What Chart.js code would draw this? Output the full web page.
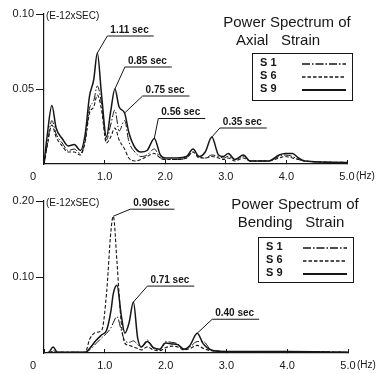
<!DOCTYPE html>
<html lang="en">
<head>
<meta charset="UTF-8">
<title>Power Spectrum of Axial and Bending Strain</title>
<script src="https://cdn.jsdelivr.net/npm/chart.js"></script>
<style>
  body { margin: 0; background: #fff; }
  .wrap { position: relative; width: 388px; height: 374px; }
  canvas { position: absolute; left: 0; }
  #axialChart { top: 0; }
  #bendingChart { top: 187px; }
</style>
</head>
<body>
<div class="wrap">
  <canvas id="axialChart" width="388" height="187"></canvas>
  <canvas id="bendingChart" width="388" height="187"></canvas>
</div>
<script>
// ---- axial strain (top) ----
const axialFreq = [0, 0.05, 0.13, 0.2, 0.3, 0.4, 0.5, 0.6, 0.68, 0.75,
  0.82, 0.88, 0.95, 1.03, 1.1, 1.17, 1.24, 1.33, 1.4, 1.5,
  1.6, 1.7, 1.82, 1.92, 2.0, 2.2, 2.35, 2.46, 2.56, 2.66,
  2.77, 2.88, 2.96, 3.04, 3.15, 3.29, 3.4, 3.7, 3.88, 3.98,
  4.1, 4.2, 4.3, 5.0];
const axialS1 = [0, 0.012, 0.029, 0.020, 0.014, 0.009, 0.010, 0.007, 0.016, 0.037,
  0.042, 0.052, 0.040, 0.016, 0.026, 0.036, 0.022, 0.029, 0.015, 0.008,
  0.005, 0.006, 0.010, 0.004, 0.003, 0.003, 0.004, 0.008, 0.005, 0.004,
  0.006, 0.005, 0.004, 0.005, 0.003, 0.005, 0.002, 0.002, 0.005, 0.006,
  0.005, 0.003, 0.002, 0.001];
const axialS6 = [0, 0.011, 0.026, 0.018, 0.012, 0.008, 0.008, 0.006, 0.015, 0.034,
  0.038, 0.046, 0.036, 0.014, 0.018, 0.024, 0.016, 0.010, 0.004, 0.002,
  0.003, 0.005, 0.007, 0.004, 0.003, 0.003, 0.004, 0.008, 0.004, 0.004,
  0.005, 0.004, 0.003, 0.004, 0.002, 0.004, 0.002, 0.002, 0.004, 0.005,
  0.004, 0.003, 0.002, 0.001];
const axialS9 = [0, 0.018, 0.039, 0.024, 0.017, 0.012, 0.013, 0.009, 0.020, 0.045,
  0.056, 0.074, 0.046, 0.018, 0.035, 0.050, 0.038, 0.034, 0.021, 0.011,
  0.008, 0.009, 0.017, 0.006, 0.004, 0.004, 0.005, 0.010, 0.005, 0.008,
  0.018, 0.006, 0.005, 0.007, 0.003, 0.006, 0.002, 0.002, 0.006, 0.007,
  0.007, 0.004, 0.002, 0.001];
const axialPeakText = ['1.11 sec', '0.85 sec', '0.75 sec', '0.56 sec', '0.35 sec'];
const axialPeakFreq = [0.88, 1.17, 1.33, 1.82, 2.77];
const axialPeakVal = [0.074, 0.050, 0.034, 0.017, 0.018];

// ---- bending strain (bottom) ----
const bendFreq = [0, 0.08, 0.15, 0.22, 0.4, 0.68, 0.75, 0.85, 0.95, 1.03,
  1.1, 1.14, 1.2, 1.27, 1.33, 1.4, 1.47, 1.54, 1.6, 1.7,
  1.8, 1.9, 2.0, 2.1, 2.2, 2.3, 2.4, 2.52, 2.62, 2.75,
  3.0, 3.5, 4.0, 5.0];
const bendS1 = [0, 0, 0.003, 0.001, 0.001, 0.001, 0.004, 0.012, 0.020, 0.026,
  0.033, 0.040, 0.048, 0.030, 0.016, 0.014, 0.016, 0.011, 0.008, 0.017,
  0.006, 0.004, 0.015, 0.014, 0.012, 0.005, 0.008, 0.015, 0.015, 0.004,
  0.002, 0.002, 0.002, 0.001];
const bendS6 = [0, 0, 0.002, 0.001, 0.001, 0.001, 0.018, 0.027, 0.030, 0.080,
  0.160, 0.180, 0.120, 0.040, 0.013, 0.010, 0.008, 0.006, 0.004, 0.008,
  0.004, 0.003, 0.007, 0.009, 0.008, 0.004, 0.006, 0.010, 0.006, 0.003,
  0.002, 0.001, 0.002, 0.001];
const bendS9 = [0, 0.001, 0.008, 0.001, 0.001, 0.001, 0.006, 0.016, 0.024, 0.030,
  0.055, 0.078, 0.089, 0.050, 0.026, 0.040, 0.067, 0.020, 0.008, 0.015,
  0.007, 0.005, 0.013, 0.012, 0.011, 0.005, 0.010, 0.026, 0.012, 0.004,
  0.002, 0.002, 0.002, 0.001];
const bendPeakText = ['0.90sec', '0.71 sec', '0.40 sec'];
const bendPeakFreq = [1.14, 1.47, 2.52];
const bendPeakVal = [0.180, 0.067, 0.026];

const seriesNames = ['S 1', 'S 6', 'S 9'];
const xTickLabels = ['0', '1.0', '2.0', '3.0', '4.0', '5.0'];

const ink = '#161616';
const fontFam = '"Liberation Sans", Arial, sans-serif';
const lineStyles = [
  { dash: [8, 2, 1.5, 2], width: 1 },   // S1 dash-dot
  { dash: [3.5, 2], width: 1.1 },        // S6 dashed
  { dash: [], width: 1.5 }               // S9 solid
];

function pts(freq, vals) {
  return freq.map((f, i) => ({ x: f, y: vals[i] }));
}

// titles, legend box, unit and peak labels
const decor = {
  id: 'decor',
  afterDraw(chart, args, o) {
    const ctx = chart.ctx, xs = chart.scales.x, ys = chart.scales.y, a = chart.chartArea;
    ctx.save();
    ctx.fillStyle = ink;
    ctx.strokeStyle = ink;
    ctx.textBaseline = 'middle';

    ctx.font = '10px ' + fontFam;
    ctx.textAlign = 'left';
    ctx.fillText('(E-12xSEC)', a.left + 2, a.top + 2);
    ctx.fillText('(Hz)', xs.getPixelForValue(5) + 9, xs.top + 12);

    ctx.font = '15px ' + fontFam;
    ctx.textAlign = 'center';
    ctx.fillText(o.title[0], o.titleX[0], o.titleY[0]);
    ctx.fillText(o.title[1], o.titleX[1], o.titleY[1]);

    // legend
    const b = o.box;
    ctx.lineWidth = 1;
    ctx.strokeRect(b.x + 0.5, b.y + 0.5, b.w, b.h);
    ctx.font = 'bold 11px ' + fontFam;
    ctx.textAlign = 'left';
    seriesNames.forEach((n, i) => {
      const y = b.y + 10 + i * 13;
      ctx.fillText(n, b.x + 8, y);
      ctx.setLineDash(lineStyles[i].dash);
      ctx.lineWidth = lineStyles[i].width + 0.3;
      ctx.beginPath();
      ctx.moveTo(b.x + b.w - 50, y + 1);
      ctx.lineTo(b.x + b.w - 6, y + 1);
      ctx.stroke();
    });
    ctx.setLineDash([]);

    // peak period labels
    ctx.font = 'bold 10px ' + fontFam;
    ctx.lineWidth = 1;
    o.text.forEach((t, i) => {
      const px = xs.getPixelForValue(o.freq[i]);
      const py = ys.getPixelForValue(o.val[i]);
      const sx = px + o.off[i][0], sy = py + o.off[i][1];
      const w = ctx.measureText(t).width;
      ctx.beginPath();
      ctx.moveTo(px, py);
      ctx.lineTo(sx, sy);
      ctx.lineTo(sx + w + 8, sy);
      ctx.stroke();
      ctx.fillText(t, sx + 3, sy - 6);
    });
    ctx.restore();
  }
};

function makeChart(id, freq, s1, s6, s9, yMax, yStep, xHeight, padRight, deco) {
  const sets = [s1, s6, s9].map((vals, i) => ({
    label: seriesNames[i],
    data: pts(freq, vals),
    borderColor: ink,
    borderWidth: lineStyles[i].width,
    borderDash: lineStyles[i].dash,
    pointRadius: 0,
    fill: false,
    cubicInterpolationMode: 'monotone'
  }));
  return new Chart(document.getElementById(id), {
    type: 'line',
    data: { datasets: sets },
    plugins: [decor],
    options: {
      responsive: false,
      animation: false,
      devicePixelRatio: 1,
      layout: { padding: { left: 0, top: 14, right: padRight, bottom: 0 } },
      plugins: { legend: { display: false }, tooltip: { enabled: false }, decor: deco },
      scales: {
        x: {
          type: 'linear', min: 0, max: 5,
          afterFit: s => { s.height = xHeight; },
          border: { color: ink, width: 1.2 },
          grid: { drawOnChartArea: false, tickLength: -4, color: ink },
          ticks: {
            stepSize: 1, padding: 10, color: ink, maxRotation: 0, autoSkip: false,
            font: { family: fontFam, size: 11 },
            callback: (v, i) => v === 0 ? '0\u2003\u2003' : xTickLabels[i]
          }
        },
        y: {
          min: 0, max: yMax,
          afterFit: s => { s.width = 44; },
          border: { color: ink, width: 1.2 },
          grid: {
            drawOnChartArea: false, tickLength: 8,
            color: c => (c.tick && c.tick.value === 0) ? 'rgba(0,0,0,0)' : ink
          },
          ticks: {
            stepSize: yStep, padding: 2, color: ink,
            font: { family: fontFam, size: 11 },
            callback: v => v === 0 ? '' : v.toFixed(2)
          }
        }
      }
    }
  });
}

makeChart('axialChart', axialFreq, axialS1, axialS6, axialS9, 0.10, 0.05, 23, 41, {
  title: ['Power Spectrum of', 'Axial   Strain'],
  titleX: [287, 278], titleY: [23, 41],
  box: { x: 252, y: 53, w: 100, h: 47 },
  text: axialPeakText, freq: axialPeakFreq, val: axialPeakVal,
  off: [[10, -17], [10, -22], [18, -17], [4, -20], [8, -9]]
});

makeChart('bendingChart', bendFreq, bendS1, bendS6, bendS9, 0.20, 0.10, 21, 40, {
  title: ['Power Spectrum of', 'Bending   Strain'],
  titleX: [295, 291], titleY: [18, 36],
  box: { x: 258, y: 50, w: 95, h: 45 },
  text: bendPeakText, freq: bendPeakFreq, val: bendPeakVal,
  off: [[17, -7], [14, -16], [15, -14]]
});
</script>
</body>
</html>
